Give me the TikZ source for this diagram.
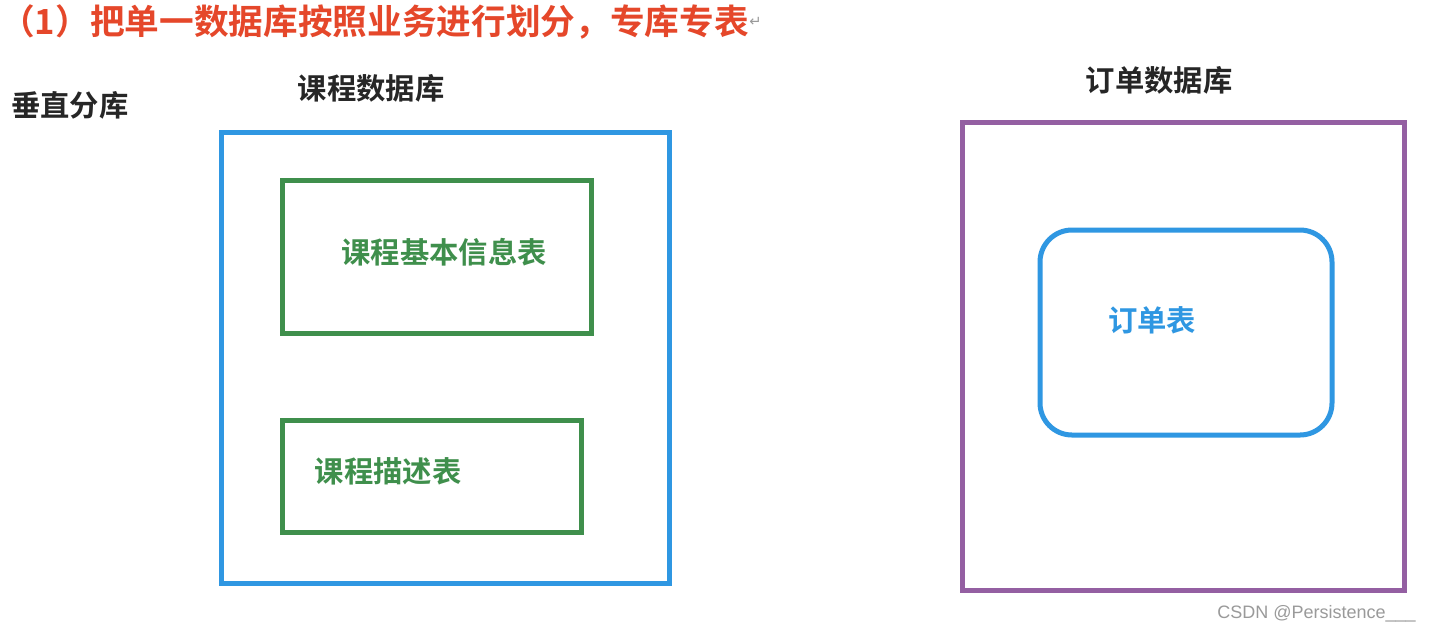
\documentclass[tikz,border=0pt]{standalone}
\usepackage{fontspec}
\setmainfont{Liberation Sans}
\newfontfamily\cjk{Noto Sans CJK SC Bold}
\newfontfamily\symf{DejaVu Sans}
\definecolor{titlered}{HTML}{E5472A}
\definecolor{dbblue}{HTML}{2F97E2}
\definecolor{tgreen}{HTML}{3F8F4C}
\definecolor{dbpurple}{HTML}{945FA2}
\definecolor{wmgray}{HTML}{9A9A9A}
\tikzset{
  pxunits/.style={x=0.75pt,y=-0.75pt},
  boxline/.style={line width=3.75pt},
  lbl/.style={inner sep=0pt,font=\cjk\fontsize{22}{24}\selectfont},
}
\begin{document}
\begin{tikzpicture}[pxunits]
\useasboundingbox[fill=white] (0,0) rectangle (1430,633);
% title
\node[inner sep=0pt,anchor=west,text=titlered,font=\cjk\fontsize{26}{28}\selectfont] (title) at (0,22) {（1）把单一数据库按照业务进行划分，专库专表};
\node[inner sep=0pt,anchor=west,text=wmgray,font=\symf\fontsize{11}{12}\selectfont] (ret) at (title.east) {↵};
% labels
\node[lbl,text=black!85] (vert) at (70,105) {垂直分库};
\node[lbl,text=black!85] (kcdb) at (371,88) {课程数据库};
\node[lbl,text=black!85] (dddb) at (1159,80) {订单数据库};
% course database
\draw[boxline,draw=dbblue] (221,132) rectangle (669,583);
\node[boxline,draw=tgreen,minimum width=309*0.75pt,minimum height=153*0.75pt,inner sep=0pt] (t1) at (436.5,256.5) {};
\node[lbl,text=tgreen] (t1l) at (444,252) {课程基本信息表};
\node[boxline,draw=tgreen,minimum width=299*0.75pt,minimum height=112*0.75pt,inner sep=0pt] (t2) at (431.5,476) {};
\node[lbl,text=tgreen] (t2l) at (388,471) {课程描述表};
% order database
\draw[boxline,draw=dbpurple] (962,122) rectangle (1404,590);
\node[boxline,draw=dbblue,rounded corners=24pt,minimum width=292*0.75pt,minimum height=205*0.75pt,inner sep=0pt] (t3) at (1186,332.5) {};
\node[lbl,text=dbblue] (t3l) at (1152,320) {订单表};
% watermark
\node[inner sep=0pt,anchor=east,text=wmgray,font=\fontsize{13.5}{15}\selectfont] (wm) at (1416,614) {CSDN @Persistence\_\_\_};
\end{tikzpicture}
\end{document}
